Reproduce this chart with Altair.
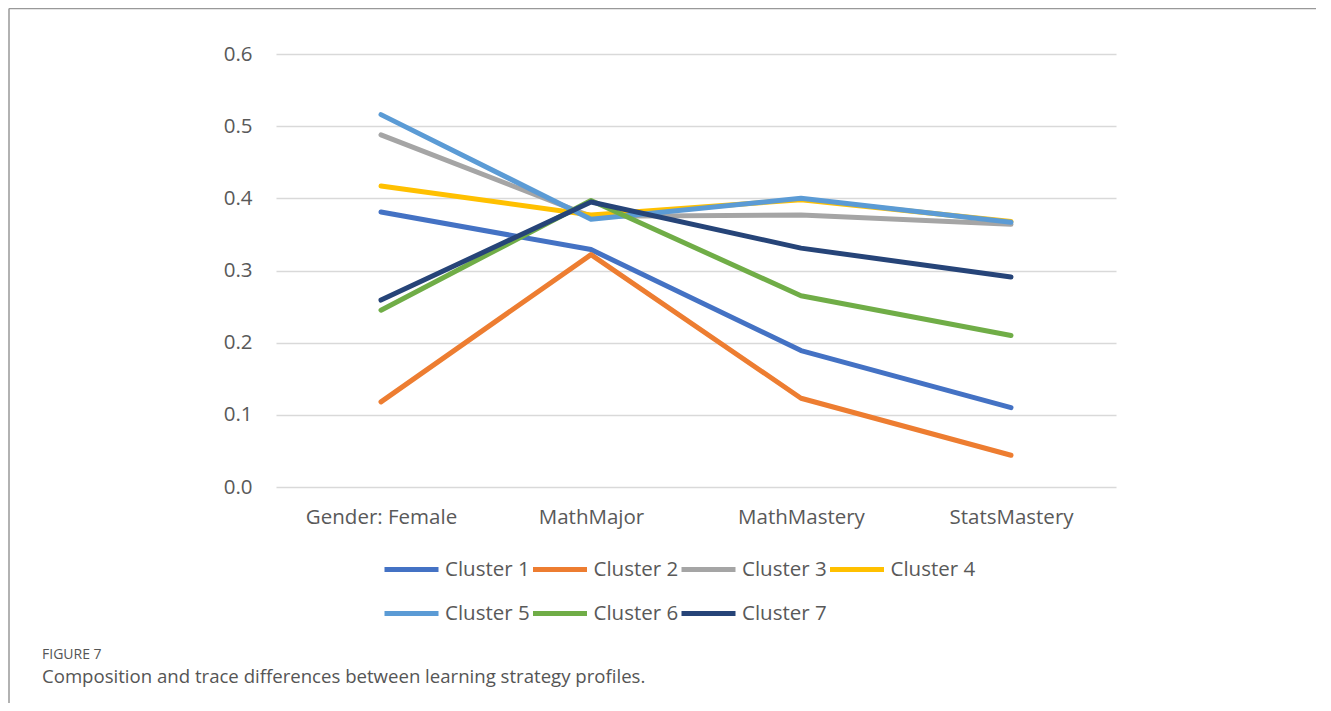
import altair as alt
import pandas as pd

categories = ["Gender: Female", "MathMajor", "MathMastery", "StatsMastery"]
series_names = ["Cluster 1", "Cluster 2", "Cluster 3", "Cluster 4", "Cluster 5", "Cluster 6", "Cluster 7"]
cluster1 = [0.381, 0.329, 0.189, 0.110]
cluster2 = [0.118, 0.322, 0.123, 0.044]
cluster3 = [0.488, 0.375, 0.377, 0.364]
cluster4 = [0.417, 0.377, 0.398, 0.368]
cluster5 = [0.516, 0.371, 0.400, 0.367]
cluster6 = [0.245, 0.397, 0.265, 0.210]
cluster7 = [0.259, 0.395, 0.331, 0.291]
colors = ["#4472C4", "#ED7D31", "#A5A5A5", "#FFC000", "#5B9BD5", "#70AD47", "#264478"]

all_series = [cluster1, cluster2, cluster3, cluster4, cluster5, cluster6, cluster7]
rows = []
for i, (name, vals) in enumerate(zip(series_names, all_series)):
    for j, (cat, v) in enumerate(zip(categories, vals)):
        rows.append({"series": name, "category": cat, "value": v, "order": i, "cidx": j})
df = pd.DataFrame(rows)

FONT = "Open Sans"
TXT = "#595959"

lines = alt.Chart(df).mark_line(strokeWidth=5, strokeCap="round", strokeJoin="round").encode(
    x=alt.X("category:N", sort=categories, title=None,
            scale=alt.Scale(type="point", padding=0.5),
            axis=alt.Axis(labelAngle=0, ticks=False, domain=False, grid=False,
                          labelPadding=20, labelFontSize=20.5, labelColor=TXT, labelFont=FONT)),
    y=alt.Y("value:Q", title=None,
            scale=alt.Scale(domain=[0, 0.6], nice=False, zero=True),
            axis=alt.Axis(values=[0, 0.1, 0.2, 0.3, 0.4, 0.5, 0.6], format=".1f",
                          ticks=False, domain=False, grid=True, gridColor="#D9D9D9",
                          gridWidth=1.3, labelPadding=24, labelFontSize=20.5,
                          labelColor=TXT, labelFont=FONT)),
    color=alt.Color("series:N", sort=series_names,
                    scale=alt.Scale(domain=series_names, range=colors),
                    legend=alt.Legend(title=None, orient="none", legendX=106, legendY=486,
                                      direction="horizontal", columns=4,
                                      symbolType="stroke", symbolSize=2916,
                                      symbolStrokeWidth=5, labelOffset=4, columnPadding=-7.5,
                                      rowPadding=4, labelFontSize=20.5, labelColor=TXT,
                                      labelFont=FONT, symbolLimit=0)),
    order=alt.Order("cidx:Q"),
)

one = pd.DataFrame({"a": [0]})
frame_top = alt.Chart(one).mark_rule(color="#999999", strokeWidth=1.5).encode(
    x=alt.value(-267), x2=alt.value(1045), y=alt.value(-45.5))
frame_left = alt.Chart(one).mark_rule(color="#999999", strokeWidth=1.5).encode(
    x=alt.value(-267), y=alt.value(-45.5), y2=alt.value(660))

cap1 = alt.Chart(pd.DataFrame({"t": ["FIGURE 7"]})).mark_text(
    align="left", baseline="middle", fontSize=14, font=FONT, color="#555555").encode(
    x=alt.value(-234), y=alt.value(601), text="t:N")
cap2 = alt.Chart(pd.DataFrame({"t": ["Composition and trace differences between learning strategy profiles."]})).mark_text(
    align="left", baseline="middle", fontSize=18.6, font=FONT, color="#555555").encode(
    x=alt.value(-234), y=alt.value(623), text="t:N")

chart = alt.layer(frame_top, frame_left, lines, cap1, cap2).properties(
    width=840, height=433,
    background="white",
    autosize=alt.AutoSizeParams(type="none"),
    padding={"left": 268, "top": 46, "right": 200, "bottom": 216},
).configure_view(strokeWidth=0, stroke="transparent")

chart.save("out.html", embed_options={"renderer": "svg", "actions": False})
